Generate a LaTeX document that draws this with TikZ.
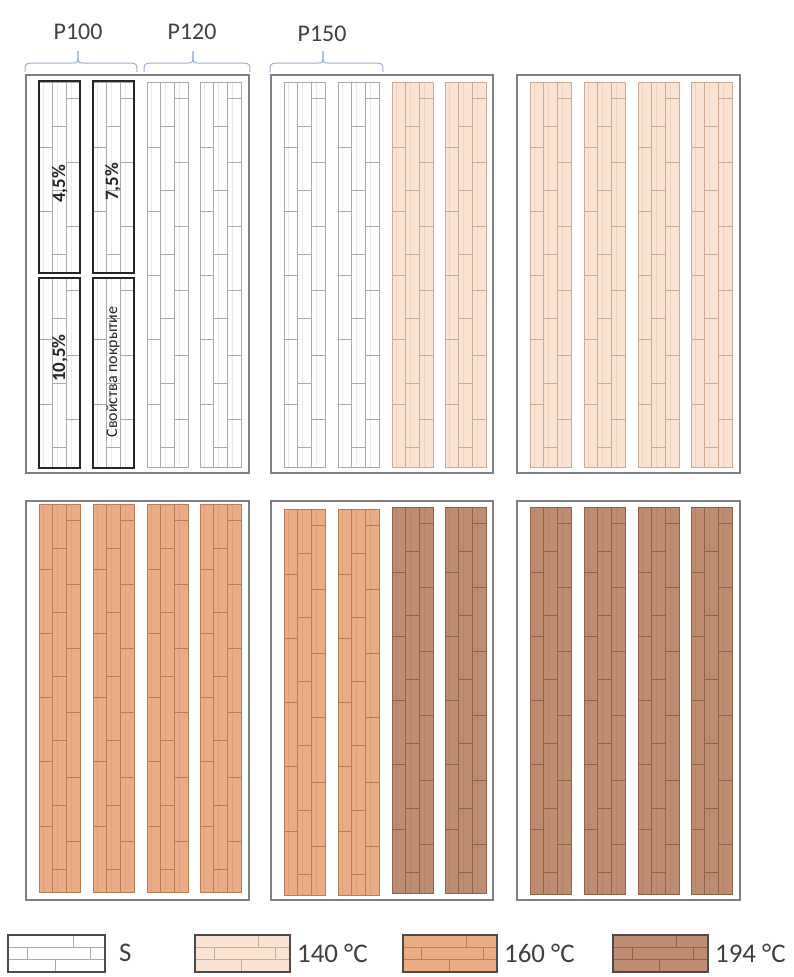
\documentclass[tikz,border=0pt]{standalone}
\usepackage{fontspec}
\setmainfont{Carlito}
\definecolor{sfill}{HTML}{FFFFFF}
\definecolor{sline}{HTML}{ABABAB}
\definecolor{afill}{HTML}{FBE3D4}
\definecolor{aline}{HTML}{CDAA94}
\definecolor{bfill}{HTML}{EBAB85}
\definecolor{bline}{HTML}{BA7C58}
\definecolor{cfill}{HTML}{BE8C70}
\definecolor{cline}{HTML}{8F624A}
\definecolor{panelgray}{HTML}{808080}
\definecolor{bracecol}{HTML}{9CB0D2}
\definecolor{txtgray}{HTML}{404040}
\tikzset{
  panel/.style={draw=panelgray, line width=1.4bp},
  thickbox/.style={draw=black!85, line width=2bp},
  bracestyle/.style={draw=bracecol, line width=1bp},
  header/.style={text=txtgray, font=\fontsize{24}{24}\selectfont, inner sep=0pt},
  legtext/.style={text=txtgray, font=\fontsize{27}{27}\selectfont, inner sep=0pt, anchor=west},
  boxlabel/.style={rotate=90, text=black!85, font=\bfseries\fontsize{19}{19}\selectfont, inner sep=0pt},
  legbox/.style={draw=black!70, line width=1.5bp}
}
\newcommand\woodstrip[5]{%
  \fill[#4] (#1,#2) rectangle (#1+41,#3);
  \draw[#5, line width=0.8bp] (#1,#2) rectangle (#1+41,#3);
  \draw[#5, line width=0.8bp] (#1+13.67,#2) -- (#1+13.67,#3) (#1+27.33,#2) -- (#1+27.33,#3);
  \draw[#5, line width=0.5bp, opacity=0.25] (#1+4.5,#2) -- (#1+4.5,#3) (#1+18.2,#2) -- (#1+18.2,#3) (#1+32,#2) -- (#1+32,#3);
  \foreach \c/\o in {0/65,1/44,2/16}{
    \foreach \k in {0,...,6}{
      \pgfmathsetmacro\yy{#2+\o+\k*64.3}
      \ifdim\yy pt<\dimexpr#3pt-4pt\relax
        \draw[#5, line width=0.9bp] (#1+\c*13.67,\yy) -- (#1+\c*13.67+13.67,\yy);
      \fi
    }
  }
}
\newcommand\hbrace[3]{%
  \draw[bracestyle] (#1,72) .. controls (#1,64) .. (#1+6,63) -- (#3-5,63) .. controls (#3,63) .. (#3,51);
  \draw[bracestyle] (#2,72) .. controls (#2,64) .. (#2-6,63) -- (#3+5,63) .. controls (#3,63) .. (#3,51);
}
\newcommand\legbrick[5]{% x1, y1, x2, y2, line colour
  \draw[#5, line width=0.8bp]
    (#1,{#2+(#4-#2)/3}) -- (#3,{#2+(#4-#2)/3})
    (#1,{#2+2*(#4-#2)/3}) -- (#3,{#2+2*(#4-#2)/3})
    ({#1+0.67*(#3-#1)},#2) -- ({#1+0.67*(#3-#1)},{#2+(#4-#2)/3})
    ({#1+0.2*(#3-#1)},{#2+(#4-#2)/3}) -- ({#1+0.2*(#3-#1)},{#2+2*(#4-#2)/3})
    ({#1+0.85*(#3-#1)},{#2+(#4-#2)/3}) -- ({#1+0.85*(#3-#1)},{#2+2*(#4-#2)/3})
    ({#1+0.49*(#3-#1)},{#2+2*(#4-#2)/3}) -- ({#1+0.49*(#3-#1)},#4);
}
\begin{document}
\begin{tikzpicture}[x=1bp,y=-1bp]
\useasboundingbox (0,0) rectangle (794,977);
\fill[white] (0,0) rectangle (794,977);

% headers and braces
\node[header] (p100) at (78,32) {P100};
\node[header] (p120) at (192,32) {P120};
\node[header] (p150) at (322,34) {P150};
\hbrace{25}{137}{78}
\hbrace{144}{250}{193}
\hbrace{270}{383}{323}

% ---- top row ----
\draw[panel] (26,75) rectangle (249,473);
\draw[panel] (271,75) rectangle (493,473);
\draw[panel] (517,75) rectangle (740,473);

\foreach \x in {39,93,147,200} {\woodstrip{\x}{82}{467}{sfill}{sline}}
\foreach \x in {284,338} {\woodstrip{\x}{82}{467}{sfill}{sline}}
\foreach \x in {392,445} {\woodstrip{\x}{82}{467}{afill}{aline}}
\foreach \x in {530,584,638,691} {\woodstrip{\x}{82}{467}{afill}{aline}}

% thick boxes in panel 1
\fill[white] (38,273) rectangle (81,278);
\fill[white] (92,273) rectangle (135,278);
\draw[thickbox] (39,81) rectangle (80,273);
\draw[thickbox] (93,81) rectangle (134,273);
\draw[thickbox] (39,278) rectangle (80,468);
\draw[thickbox] (93,278) rectangle (134,468);
\node[boxlabel] (l45) at (60,184) {4,5\%};
\node[boxlabel] (l75) at (113,182) {7,5\%};
\node[boxlabel] (l105) at (60,358) {10,5\%};
\node[boxlabel, font=\fontsize{16}{16}\selectfont] (lsv) at (113,372) {Свойства покрытие};

% ---- bottom row ----
\draw[panel] (26,501) rectangle (249,900);
\draw[panel] (271,501) rectangle (493,900);
\draw[panel] (517,501) rectangle (740,900);

\foreach \x in {39,93,147,200} {\woodstrip{\x}{504}{892}{bfill}{bline}}
\foreach \x in {284,338} {\woodstrip{\x}{509}{895}{bfill}{bline}}
\foreach \x in {392,445} {\woodstrip{\x}{507}{893}{cfill}{cline}}
\foreach \x in {530,584,638,691} {\woodstrip{\x}{507}{894}{cfill}{cline}}

% ---- legend ----
\fill[sfill] (8,935) rectangle (105,972);
\legbrick{8}{935}{105}{972}{sline}
\draw[legbox] (8,935) rectangle (105,972);
\node[legtext] (ls) at (119,953) {S};

\fill[afill] (195,935) rectangle (290,972);
\legbrick{195}{935}{290}{972}{aline}
\draw[legbox] (195,935) rectangle (290,972);
\node[legtext] (l140) at (297,953) {140 °C};

\fill[bfill] (403,935) rectangle (497,972);
\legbrick{403}{935}{497}{972}{bline}
\draw[legbox] (403,935) rectangle (497,972);
\node[legtext] (l160) at (504,953) {160 °C};

\fill[cfill] (613,935) rectangle (708,972);
\legbrick{613}{935}{708}{972}{cline}
\draw[legbox] (613,935) rectangle (708,972);
\node[legtext] (l194) at (715,953) {194 °C};
\end{tikzpicture}
\end{document}
